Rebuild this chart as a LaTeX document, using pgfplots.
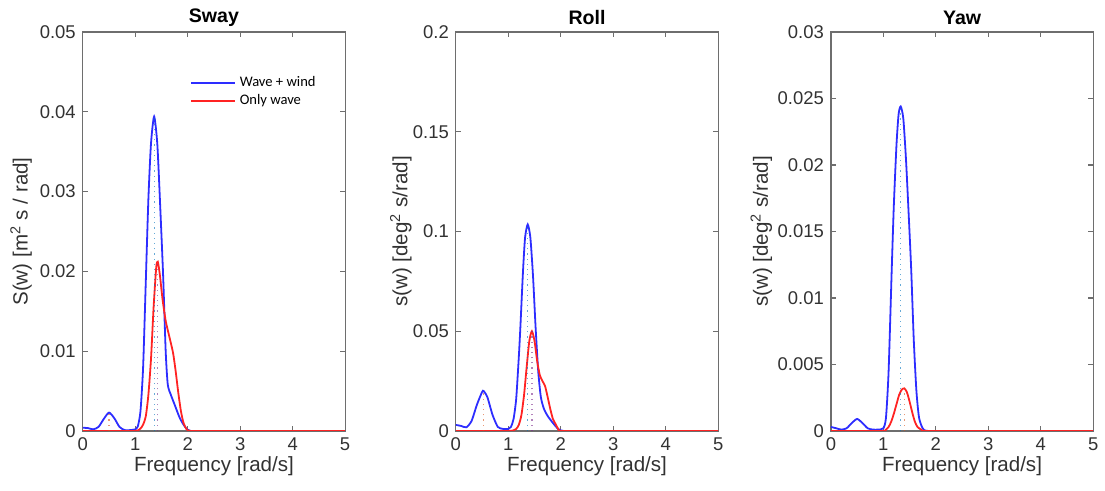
\documentclass[border=0pt]{standalone}
\usepackage{fontspec}
\setmainfont{Liberation Sans}
\newfontfamily\carlito{Carlito}
\usepackage{pgfplots}
\pgfplotsset{compat=1.18}
\definecolor{mblue}{RGB}{45,45,255}
\definecolor{mred}{RGB}{255,35,35}
\definecolor{dblue}{rgb}{0,0.447,0.741}
\definecolor{dorange}{rgb}{0.85,0.325,0.098}
\definecolor{dpurple}{rgb}{0.494,0.184,0.556}
\definecolor{axgray}{RGB}{110,110,110}
\definecolor{txt}{RGB}{50,50,50}
\pgfplotsset{
  every axis title shift=0pt,
  mystyle/.style={
    scale only axis, width=131.5pt, height=200pt,
    anchor=south west,
    xmin=0, xmax=5, ymin=0,
    xtick={0,1,2,3,4,5},
    xticklabels={0,1,2,3,4,5},
    axis line style={axgray, line width=0.6pt},
    tick style={axgray, line width=0.6pt},
    major tick length=2.5pt,
    tick align=inside,
    ticklabel style={font=\fontsize{9.25}{11}\selectfont, text=txt},
    xlabel={Frequency [rad/s]},
    xlabel style={font=\fontsize{10.3}{12}\selectfont, text=txt, at={(axis description cs:0.5,-0.0875)}, anchor=center},
    title style={font=\fontsize{9.8}{12}\selectfont\bfseries, at={(axis description cs:0.5,1.035)}, anchor=center, inner sep=1pt},
    ylabel style={font=\fontsize{10.3}{12}\selectfont, text=txt, anchor=center},
    scaled y ticks=false,
  },
  wline/.style={mblue, line width=0.9pt, smooth, tension=0.4},
  rline/.style={mred, line width=0.9pt, smooth, tension=0.4},
  dline/.style={#1, dotted, line width=0.6pt, opacity=0.6, forget plot},
}
\begin{document}
\begin{tikzpicture}
\path (-41.5pt,-30pt) rectangle (511pt,216pt);
% Sway
\begin{axis}[mystyle, at={(0pt,0pt)}, ymax=0.05,
  ytick={0,0.01,0.02,0.03,0.04,0.05},
  yticklabels={0,0.01,0.02,0.03,0.04,0.05},
  title={Sway},
  ylabel={S(w) [m\textsuperscript{2} s / rad]},
  ylabel style={at={(axis description cs:-0.235,0.5)}},
  legend style={at={(axis description cs:0.40,0.905)}, anchor=north west, draw=none, fill=none, font=\carlito\fontsize{7.3}{8.8}\selectfont, row sep=-1.5pt, inner sep=1pt},
  legend cell align=left,
  legend image code/.code={\draw[#1, smooth=false] (0pt,0pt) -- (22pt,0pt);},
]
\addplot[wline] coordinates {
(0,0.0004) (0.1,0.00035) (0.2,0.0002) (0.3,0.0005) (0.4,0.0015) (0.5,0.0023) (0.6,0.0016) (0.7,0.0005) (0.8,0.0001) (0.9,0.0001) (1.0,0.0002)
(1.05,0.0006) (1.1,0.0025) (1.15,0.008) (1.2,0.0185) (1.25,0.029) (1.3,0.036) (1.36,0.0394) (1.42,0.036) (1.47,0.029) (1.53,0.0197)
(1.58,0.010) (1.62,0.0058) (1.68,0.0045) (1.75,0.0033) (1.85,0.0016) (1.95,0.0005) (2.05,0) (2.5,0) (5,0)};
\addlegendentry{Wave + wind}
\addplot[rline] coordinates {
(0,0) (0.5,0) (1.0,0) (1.1,0.0003) (1.15,0.0008) (1.2,0.0018) (1.25,0.0045) (1.3,0.009) (1.35,0.0155) (1.4,0.0205) (1.43,0.0212)
(1.47,0.0195) (1.52,0.0165) (1.58,0.0138) (1.65,0.0118) (1.72,0.0098) (1.77,0.0075) (1.82,0.0048) (1.87,0.0025) (1.92,0.001) (1.98,0.0002) (2.05,0) (2.5,0) (5,0)};
\addlegendentry{Only wave}
\addplot[dline=dorange] coordinates {(0.5,0) (0.5,0.0023)};
\addplot[dline=dblue] coordinates {(1.36,0) (1.36,0.0394)};
\addplot[dline=dpurple] coordinates {(1.43,0) (1.43,0.0212)};
\end{axis}
% Roll
\begin{axis}[mystyle, at={(187pt,0pt)}, ymax=0.2,
  ytick={0,0.05,0.1,0.15,0.2},
  yticklabels={0,0.05,0.1,0.15,0.2},
  title={Roll},
  ylabel={s(w) [deg\textsuperscript{2} s/rad]},
  ylabel style={at={(axis description cs:-0.21,0.5)}},
]
\addplot[wline] coordinates {
(0,0.003) (0.1,0.0025) (0.2,0.0018) (0.3,0.005) (0.4,0.013) (0.5,0.0195) (0.53,0.020) (0.6,0.017) (0.7,0.008) (0.8,0.002) (0.9,0.001) (1.0,0.001)
(1.05,0.002) (1.1,0.006) (1.15,0.016) (1.2,0.037) (1.23,0.052) (1.28,0.08) (1.32,0.097) (1.37,0.1035) (1.42,0.097) (1.47,0.078) (1.52,0.052)
(1.57,0.030) (1.62,0.017) (1.68,0.011) (1.75,0.0075) (1.85,0.004) (1.95,0.001) (2.05,0) (2.5,0) (5,0)};
\addplot[rline] coordinates {
(0,0) (0.5,0) (1.0,0) (1.1,0.0003) (1.15,0.001) (1.2,0.003) (1.25,0.008) (1.3,0.018) (1.35,0.032) (1.4,0.045) (1.45,0.050) (1.5,0.045)
(1.55,0.035) (1.6,0.028) (1.65,0.025) (1.7,0.0225) (1.75,0.017) (1.8,0.011) (1.85,0.006) (1.9,0.0035) (1.95,0.001) (2.0,0) (2.5,0) (5,0)};
\addplot[dline=dorange] coordinates {(0.53,0) (0.53,0.020)};
\addplot[dline=dblue] coordinates {(1.37,0) (1.37,0.1035)};
\addplot[dline=dpurple] coordinates {(1.45,0) (1.45,0.050)};
\end{axis}
% Yaw
\begin{axis}[mystyle, at={(375pt,0pt)}, ymax=0.03,
  ytick={0,0.005,0.01,0.015,0.02,0.025,0.03},
  yticklabels={0,0.005,0.01,0.015,0.02,0.025,0.03},
  title={Yaw},
  ylabel={s(w) [deg\textsuperscript{2} s/rad]},
  ylabel style={at={(axis description cs:-0.265,0.5)}},
]
\addplot[wline] coordinates {
(0,0.0003) (0.1,0.0002) (0.2,0.0001) (0.3,0.0002) (0.4,0.0006) (0.5,0.0009) (0.6,0.0006) (0.7,0.0002) (0.8,0.0001) (0.9,0.0001) (1.0,0.0002)
(1.05,0.001) (1.1,0.0045) (1.16,0.0122) (1.2,0.017) (1.25,0.0215) (1.29,0.0238) (1.33,0.0244) (1.38,0.0235) (1.43,0.0205) (1.48,0.0165)
(1.53,0.0122) (1.58,0.0068) (1.63,0.003) (1.68,0.001) (1.75,0.0002) (1.85,0) (2.5,0) (5,0)};
\addplot[rline] coordinates {
(0,0) (0.5,0) (1.0,0) (1.05,0.0001) (1.1,0.0003) (1.15,0.0007) (1.2,0.0013) (1.25,0.002) (1.3,0.0027) (1.35,0.0031) (1.4,0.0032) (1.45,0.0029)
(1.5,0.0022) (1.55,0.0014) (1.6,0.0007) (1.65,0.0003) (1.72,0.0001) (1.8,0) (2.5,0) (5,0)};
\addplot[dline=dblue] coordinates {(1.33,0) (1.33,0.0244)};
\addplot[dline=dorange] coordinates {(1.40,0) (1.40,0.0032)};
\end{axis}
\end{tikzpicture}
\end{document}
